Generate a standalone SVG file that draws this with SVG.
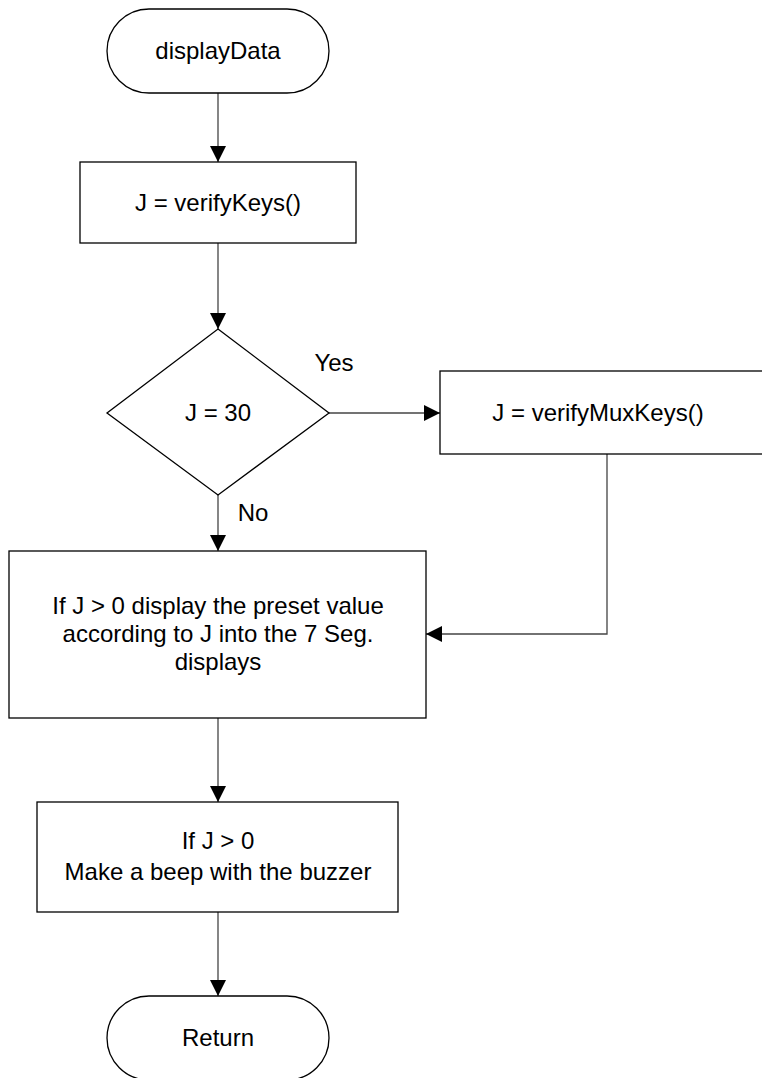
<svg xmlns="http://www.w3.org/2000/svg" width="762" height="1078" viewBox="0 0 762 1078">
<style>
.shape{fill:#fff;stroke:#000;stroke-width:1.3}
.conn{fill:none;stroke:#444;stroke-width:1.3}
text{font-family:"Liberation Sans",Arial,sans-serif;font-size:24px;fill:#000;text-anchor:middle}
</style>
<defs>
<marker id="arr" markerUnits="userSpaceOnUse" markerWidth="17" markerHeight="16" refX="16" refY="8" orient="auto" viewBox="0 0 17 16">
<path d="M0,0 L16,8 L0,16 z" fill="#000"/>
</marker>
</defs>
<rect width="762" height="1078" fill="#fff"/>
<g id="connectors">
<line class="conn" x1="218" y1="93" x2="218" y2="162" marker-end="url(#arr)"/>
<line class="conn" x1="218" y1="243" x2="218" y2="329" marker-end="url(#arr)"/>
<line class="conn" x1="329" y1="413" x2="440" y2="413" marker-end="url(#arr)"/>
<line class="conn" x1="218" y1="495" x2="218" y2="551" marker-end="url(#arr)"/>
<polyline class="conn" points="607,454 607,634 426,634" marker-end="url(#arr)"/>
<line class="conn" x1="218" y1="718" x2="218" y2="802" marker-end="url(#arr)"/>
<line class="conn" x1="218" y1="912" x2="218" y2="996" marker-end="url(#arr)"/>
<text x="334" y="371">Yes</text>
<text x="253" y="521">No</text>
</g>
<g id="start">
<rect class="shape" x="107" y="9" width="222" height="84" rx="42" ry="42"/>
<text x="218" y="59">displayData</text>
</g>
<g id="verifyKeys">
<rect class="shape" x="80" y="162" width="276" height="81"/>
<text x="218" y="211">J = verifyKeys()</text>
</g>
<g id="decision">
<polygon class="shape" points="218,329 329,413 218,495 107,413"/>
<text x="218" y="421">J = 30</text>
</g>
<g id="verifyMuxKeys">
<rect class="shape" x="440" y="371" width="330" height="83"/>
<text x="598" y="421">J = verifyMuxKeys()</text>
</g>
<g id="display">
<rect class="shape" x="9" y="551" width="417" height="167"/>
<text x="218" y="614">If J &gt; 0 display the preset value</text>
<text x="218" y="642">according to J into the 7 Seg.</text>
<text x="218" y="670">displays</text>
</g>
<g id="beep">
<rect class="shape" x="37" y="802" width="361" height="110"/>
<text x="218" y="849">If J &gt; 0</text>
<text x="218" y="880">Make a beep with the buzzer</text>
</g>
<g id="return">
<rect class="shape" x="107" y="996" width="222" height="84" rx="42" ry="42"/>
<text x="218" y="1046">Return</text>
</g>
</svg>
